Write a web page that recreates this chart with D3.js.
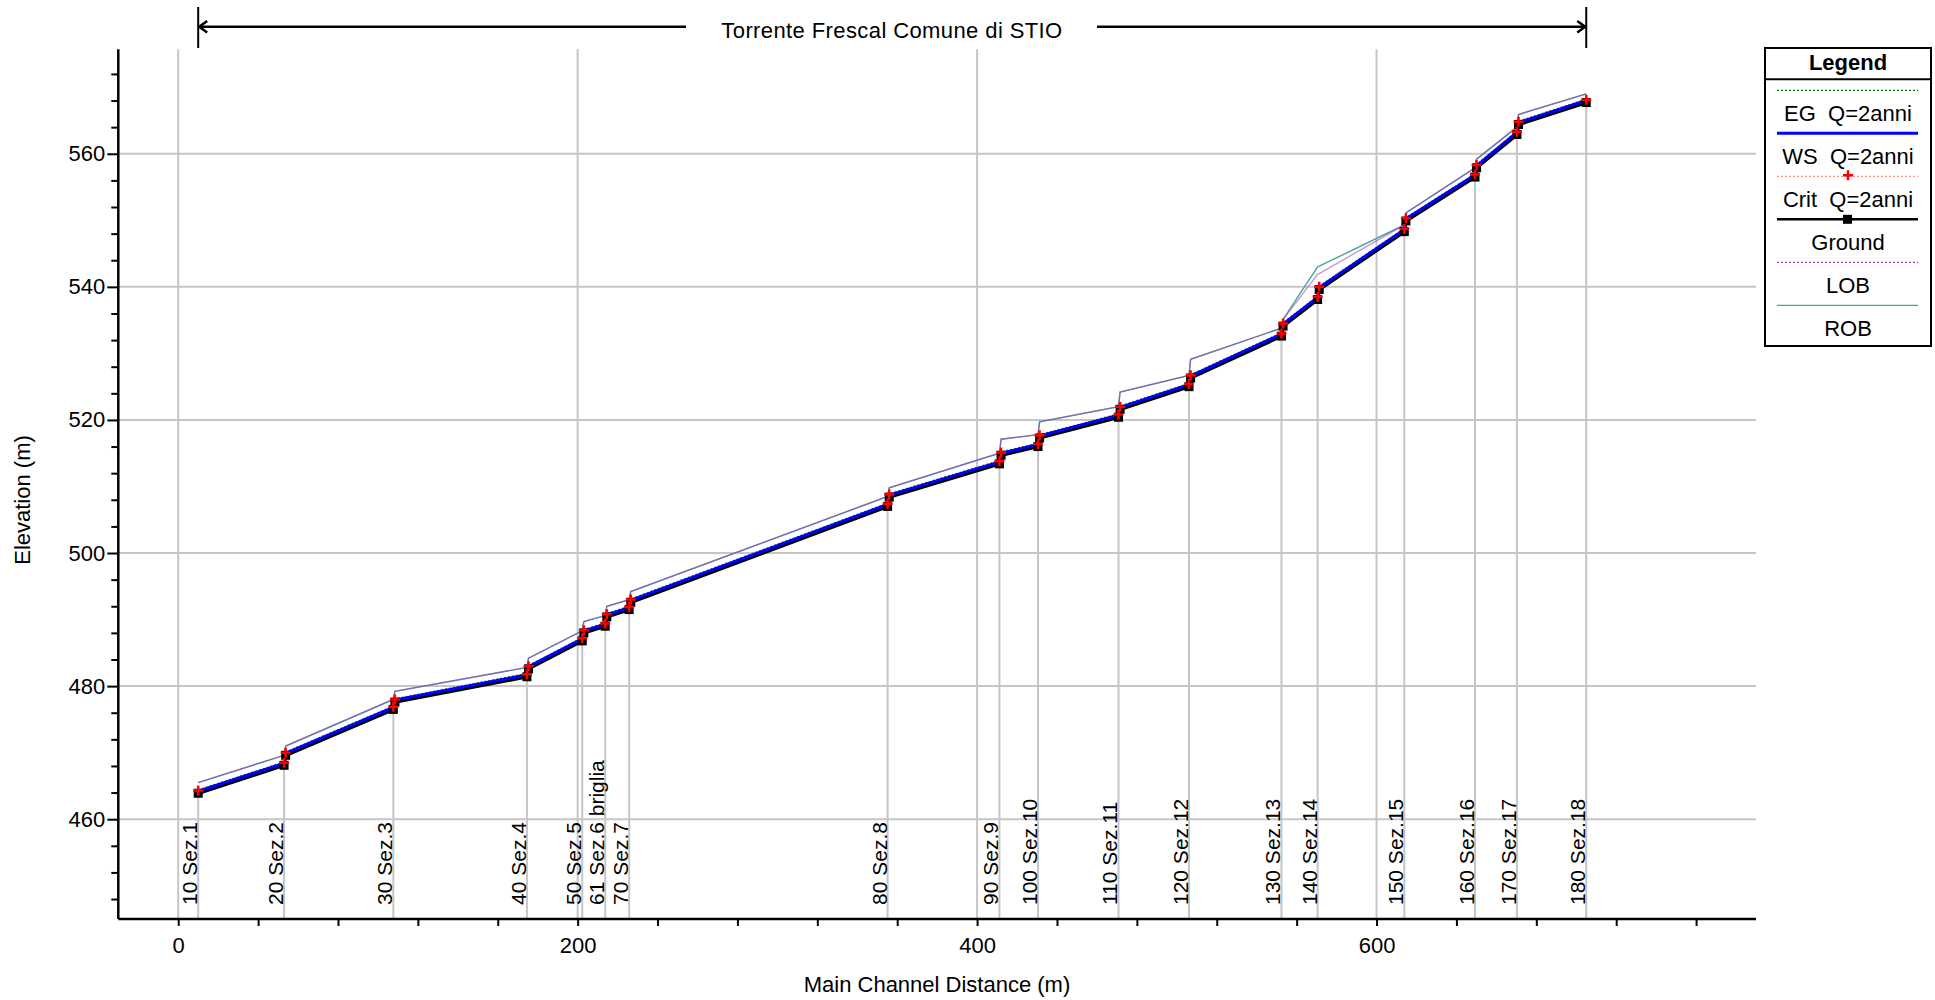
<!DOCTYPE html>
<html>
<head>
<meta charset="utf-8">
<script src="https://cdn.jsdelivr.net/npm/d3@7"></script>
<style>
  body { margin: 0; background: #fff; }
  svg { font-family: "Liberation Sans", Arial, sans-serif; }
</style>
</head>
<body>
<svg id="profile_svg" width="1935" height="1000"></svg>
<script>
// profile points (main channel distance, m) - two points at each section (step)
const stations = [10, 53, 53.8, 107.7, 108.5, 174.6, 175.4, 202.3, 203.1, 213.8, 214.6,
    225.8, 226.6, 355.2, 356.0, 411.2, 412.0, 430.5, 431.3, 470.8, 471.6, 506.1, 506.9,
    552.4, 553.2, 570.5, 571.3, 613.9, 614.7, 649.3, 650.1, 670.3, 671.1, 705]

const ground = [463.9, 468.1, 469.6, 476.5, 477.6, 481.4, 482.6, 486.8, 488.0, 489.0, 490.4,
    491.5, 492.6, 507.0, 508.4, 513.4, 514.7, 516.0, 517.3, 520.4, 521.6, 525.0, 526.3,
    532.6, 534.1, 538.1, 539.6, 548.3, 549.9, 556.5, 557.9, 562.9, 564.4, 567.7]

const ws = [464.2, 468.4, 469.9, 476.8, 477.9, 481.7, 482.9, 487.1, 488.3, 489.3, 490.7,
    491.8, 492.9, 507.3, 508.7, 513.7, 515.0, 516.3, 517.6, 520.7, 521.9, 525.3, 526.6,
    532.9, 534.4, 538.4, 539.9, 548.6, 550.2, 556.8, 558.2, 563.2, 564.7, 568.0]

const crit = [464.3, 468.5, 470.0, 476.9, 478.0, 481.8, 483.0, 487.2, 488.4, 489.4, 490.8,
    491.9, 493.0, 507.4, 508.8, 513.8, 515.1, 516.4, 517.7, 520.8, 522.0, 525.4, 526.7,
    533.0, 534.5, 538.5, 540.0, 548.7, 550.3, 556.9, 558.3, 563.3, 564.8, 568.1]

const eg = [464.4, 468.6, 470.1, 477.0, 478.1, 481.9, 483.1, 487.3, 488.5, 489.5, 490.9,
    492.0, 493.1, 507.5, 508.9, 513.9, 515.2, 516.5, 517.8, 520.9, 522.1, 525.5, 526.8,
    533.1, 534.6, 538.6, 540.1, 548.8, 550.4, 557.0, 558.4, 563.4, 564.9, 568.2]

const lob = [465.5, 469.6, 471.0, 478.0, 479.2, 482.8, 484.2, 488.3, 489.7, 490.6, 492.0,
    493.0, 494.2, 508.5, 509.8, 515.0, 517.1, 517.8, 519.7, 522.0, 524.2, 526.7, 529.1,
    533.8, 535.1, 541.9, 542.0, 549.3, 551.1, 557.9, 559.2, 564.0, 565.9, 569.0]

const rob = [465.5, 469.6, 471.0, 478.0, 479.2, 482.8, 484.2, 488.3, 489.7, 490.6, 492.0,
    493.0, 494.2, 508.5, 509.8, 515.0, 517.1, 517.8, 519.7, 522.0, 524.2, 526.7, 529.1,
    533.8, 535.1, 543.0, 543.1, 549.3, 551.1, 557.9, 559.2, 564.0, 565.9, 569.0]

// river stations / cross section names
const secNames = ["10 Sez.1", "20 Sez.2", "30 Sez.3", "40 Sez.4", "50 Sez.5", "61 Sez.6 briglia",
    "70 Sez.7", "80 Sez.8", "90 Sez.9", "100 Sez.10", "110 Sez.11", "120 Sez.12", "130 Sez.13",
    "140 Sez.14", "150 Sez.15", "160 Sez.16", "170 Sez.17", "180 Sez.18"]
const secSta = [10, 53, 107.7, 174.6, 202.3, 213.8, 225.8, 355.2, 411.2, 430.5, 470.8, 506.1,
    552.4, 570.5, 613.9, 649.3, 670.3, 705]

const xTicks = d3.range(0, 790, 40)
const yTicks = d3.range(448, 576, 4)
const xLabelTicks = [0, 200, 400, 600]
const yLabelTicks = [460, 480, 500, 520, 540, 560]

const legendItems = ["EG  Q=2anni", "WS  Q=2anni", "Crit  Q=2anni", "Ground", "LOB", "ROB"]

const title = "Torrente Frescal Comune di STIO"

const svg = d3.select("#profile_svg")

/**
 * Plot area
 */
const plot = { left: 118.3, right: 1756, top: 49.3, bottom: 919 }

const xScale = d3.scaleLinear().domain([-30, 790]).range([plot.left, plot.right])
const yScale = d3.scaleLinear().domain([445, 575.7]).range([plot.bottom, plot.top])

const pts = stations.map((s, i) => ({
    x: s, ground: ground[i], ws: ws[i], crit: crit[i], eg: eg[i], lob: lob[i], rob: rob[i]
}))

/**
 * Grid
 */
const gGrid = svg.append("g")
gGrid.selectAll(".vgrid")
    .data(xLabelTicks)
    .enter()
    .append("line")
    .attr("class", "vgrid")
    .attr("x1", d => xScale(d)).attr("x2", d => xScale(d))
    .attr("y1", plot.top).attr("y2", plot.bottom)
    .attr("stroke", "#c6c6c6").attr("stroke-width", 2)

gGrid.selectAll(".hgrid")
    .data(yLabelTicks)
    .enter()
    .append("line")
    .attr("class", "hgrid")
    .attr("x1", plot.left).attr("x2", plot.right)
    .attr("y1", d => yScale(d)).attr("y2", d => yScale(d))
    .attr("stroke", "#c6c6c6").attr("stroke-width", 2)

/**
 * Cross section lines and labels
 */
const secs = secNames.map((n, i) => {
    const k = stations.indexOf(secSta[i])
    return { name: n, x: secSta[i], top: ground[k] }
})

const gSec = svg.append("g")
gSec.selectAll(".secline")
    .data(secs)
    .enter()
    .append("line")
    .attr("class", "secline")
    .attr("x1", d => xScale(d.x)).attr("x2", d => xScale(d.x))
    .attr("y1", plot.bottom).attr("y2", d => yScale(d.top))
    .attr("stroke", "#c6c6c6").attr("stroke-width", 2)

gSec.selectAll(".seclabel")
    .data(secs)
    .enter()
    .append("text")
    .attr("class", "seclabel")
    .attr("transform", d => "translate(" + (xScale(d.x) - 1) + ",905) rotate(-90)")
    .attr("font-size", 21)
    .attr("fill", "#000")
    .text(d => d.name)

/**
 * Profile lines
 */
const line = key => d3.line().x(d => xScale(d.x)).y(d => yScale(d[key]))
const gLines = svg.append("g").attr("fill", "none")

gLines.append("path").datum(pts).attr("d", line("rob"))
    .attr("stroke", "#40a4a4").attr("stroke-width", 1.4)
gLines.append("path").datum(pts).attr("d", line("lob"))
    .attr("stroke", "#a040b8").attr("stroke-width", 1.4).attr("stroke-opacity", 0.55)
gLines.append("path").datum(pts).attr("d", line("ground"))
    .attr("stroke", "#000").attr("stroke-width", 3.5)
gLines.append("path").datum(pts).attr("d", line("eg"))
    .attr("stroke", "#008000").attr("stroke-width", 1.3).attr("stroke-dasharray", "2,2")
gLines.append("path").datum(pts).attr("d", line("crit"))
    .attr("stroke", "#ff4040").attr("stroke-width", 1.3).attr("stroke-dasharray", "2,2")
gLines.append("path").datum(pts).attr("d", line("ws"))
    .attr("stroke", "#0000ff").attr("stroke-width", 3)

// ground markers (squares) and crit markers (+)
svg.append("g").selectAll("rect")
    .data(pts)
    .enter()
    .append("rect")
    .attr("x", d => xScale(d.x) - 4.5)
    .attr("y", d => yScale(d.ground) - 4.5)
    .attr("width", 9).attr("height", 9)
    .attr("fill", "#000")

svg.append("g").selectAll("path")
    .data(pts)
    .enter()
    .append("path")
    .attr("d", d => {
        const cx = xScale(d.x), cy = yScale(d.crit)
        return "M" + (cx - 5) + "," + cy + "H" + (cx + 5) + "M" + cx + "," + (cy - 5) + "V" + (cy + 5)
    })
    .attr("stroke", "#ff0000").attr("stroke-width", 2.5).attr("fill", "none")

/**
 * Axes
 */
const xAxis = d3.axisBottom(xScale)
    .tickValues(xTicks)
    .tickSize(7)
    .tickPadding(11)
    .tickFormat(d => xLabelTicks.includes(d) ? d : "")

const gx = svg.append("g")
    .attr("transform", "translate(0," + plot.bottom + ")")
    .call(xAxis)
gx.select(".domain").attr("d", "M" + plot.left + ",0H" + plot.right)

const yAxis = d3.axisLeft(yScale)
    .tickValues(yTicks)
    .tickSize(7)
    .tickPadding(6)
    .tickFormat(d => yLabelTicks.includes(d) ? d : "")

const gy = svg.append("g")
    .attr("transform", "translate(" + plot.left + ",0)")
    .call(yAxis)
gy.select(".domain").attr("d", "M0," + plot.top + "V" + plot.bottom)
gy.selectAll(".tick line").attr("x2", d => yLabelTicks.includes(d) ? -11 : -7)

svg.selectAll(".domain").attr("stroke", "#000").attr("stroke-width", 2.5)
svg.selectAll(".tick line").attr("stroke", "#000").attr("stroke-width", 2)
svg.selectAll(".tick text")
    .attr("font-family", "Liberation Sans, Arial, sans-serif")
    .attr("font-size", 22)
    .attr("fill", "#000")

/**
 * Axis titles
 */
svg.append("text")
    .attr("x", 937).attr("y", 992)
    .attr("text-anchor", "middle")
    .attr("font-size", 22)
    .text("Main Channel Distance (m)")

svg.append("text")
    .attr("transform", "translate(30,500) rotate(-90)")
    .attr("text-anchor", "middle")
    .attr("font-size", 22)
    .text("Elevation (m)")

/**
 * Reach arrow and title at the top
 */
const ax1 = xScale(secSta[0]), ax2 = xScale(secSta[secSta.length - 1])
const gTop = svg.append("g").attr("stroke", "#000").attr("fill", "none")
gTop.append("line").attr("x1", ax1).attr("x2", ax1).attr("y1", 7).attr("y2", 48).attr("stroke-width", 2)
gTop.append("line").attr("x1", ax2).attr("x2", ax2).attr("y1", 7).attr("y2", 48).attr("stroke-width", 2)
gTop.append("line").attr("x1", ax1).attr("x2", 686).attr("y1", 26.7).attr("y2", 26.7).attr("stroke-width", 2.5)
gTop.append("line").attr("x1", 1097).attr("x2", ax2).attr("y1", 26.7).attr("y2", 26.7).attr("stroke-width", 2.5)
gTop.append("path")
    .attr("d", "M" + (ax1 + 9) + ",21L" + (ax1 + 1) + ",26.7L" + (ax1 + 9) + ",32.4")
    .attr("stroke-width", 2.5)
gTop.append("path")
    .attr("d", "M" + (ax2 - 9) + ",21L" + (ax2 - 1) + ",26.7L" + (ax2 - 9) + ",32.4")
    .attr("stroke-width", 2.5)

svg.append("text")
    .attr("x", 892).attr("y", 38)
    .attr("text-anchor", "middle")
    .attr("font-size", 22)
    .attr("letter-spacing", 0.4)
    .text(title)

/**
 * Legend
 */
const lg = svg.append("g").attr("transform", "translate(1765,48)")
lg.append("rect").attr("x", 0).attr("y", 0).attr("width", 166).attr("height", 298)
    .attr("fill", "#fff").attr("stroke", "#000").attr("stroke-width", 2)
lg.append("line").attr("x1", 0).attr("x2", 166).attr("y1", 31.3).attr("y2", 31.3)
    .attr("stroke", "#000").attr("stroke-width", 2)
lg.append("text").attr("x", 83).attr("y", 22).attr("text-anchor", "middle")
    .attr("font-size", 22).attr("font-weight", "bold").text("Legend")

const legendStyles = [
    { color: "#008000", width: 1.3, dash: "2,2" },
    { color: "#0000ff", width: 3, dash: null },
    { color: "#ff9090", width: 1.3, dash: "2,2", plus: true },
    { color: "#000", width: 2.5, dash: null, square: true },
    { color: "#9a3ca8", width: 1.3, dash: "2,2" },
    { color: "#40a4a4", width: 1.3, dash: null }
]

const entry = lg.selectAll(".legend_entry")
    .data(legendItems)
    .enter()
    .append("g")
    .attr("class", "legend_entry")
    .attr("transform", (d, i) => "translate(0," + (42.3 + i * 43) + ")")

entry.append("line")
    .attr("x1", 12).attr("x2", 153).attr("y1", 0).attr("y2", 0)
    .attr("stroke", (d, i) => legendStyles[i].color)
    .attr("stroke-width", (d, i) => legendStyles[i].width)
    .attr("stroke-dasharray", (d, i) => legendStyles[i].dash)

entry.filter((d, i) => legendStyles[i].square)
    .append("rect").attr("x", 78).attr("y", -4.5).attr("width", 9).attr("height", 9).attr("fill", "#000")

entry.filter((d, i) => legendStyles[i].plus)
    .append("path").attr("d", "M78,-1H88M83,-6V4")
    .attr("stroke", "#ff0000").attr("stroke-width", 2.5)

entry.append("text")
    .attr("x", 83).attr("y", 31)
    .attr("text-anchor", "middle")
    .attr("font-size", 22)
    .style("white-space", "pre")
    .text(d => d)
</script>
</body>
</html>
